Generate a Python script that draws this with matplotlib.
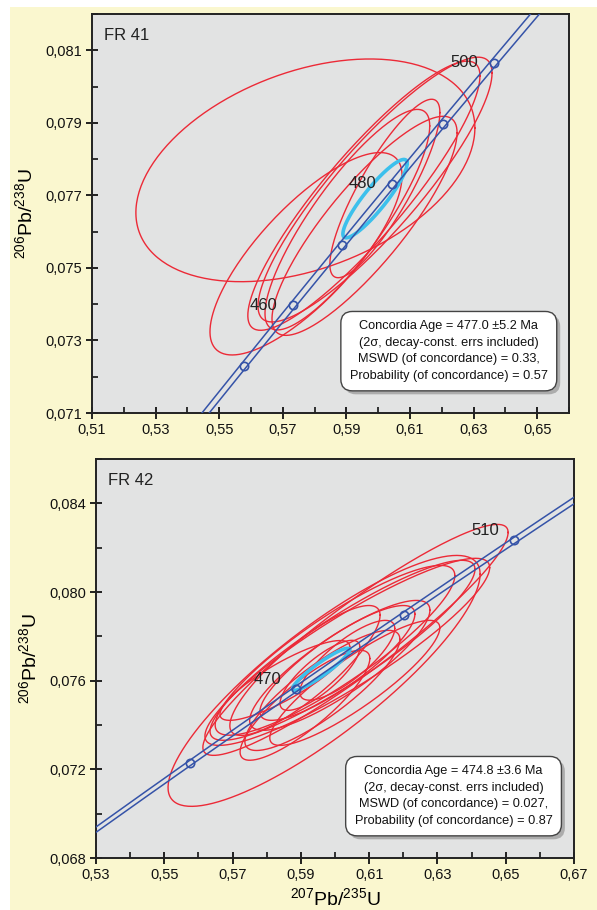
import numpy as np
import matplotlib.pyplot as plt
from matplotlib import patheffects
from matplotlib.patches import Rectangle
from matplotlib.ticker import FixedLocator, FuncFormatter

plt.rcParams['font.family'] = ['Liberation Sans', 'DejaVu Sans']
plt.rcParams['mathtext.fontset'] = 'custom'
plt.rcParams['mathtext.rm'] = 'Liberation Sans'
plt.rcParams['mathtext.it'] = 'Liberation Sans:italic'

# decay constants (1/yr)
L238 = 1.55125e-10
L235 = 9.8485e-10
band_err = 0.0017   # relative error on L235 used for the concordia band

# ---- FR 41 ----
# 207Pb/235U, half-width, 206Pb/238U, half-height, rho
fr41_x = [0.5771, 0.5773, 0.5990, 0.5955, 0.5903, 0.5957, 0.6021]
fr41_dx = [0.0533, 0.0302, 0.0368, 0.0365, 0.0259, 0.0291, 0.0173]
fr41_y = [0.07769, 0.07539, 0.07716, 0.07699, 0.07633, 0.07616, 0.07719]
fr41_dy = [0.00307, 0.00279, 0.00365, 0.00371, 0.00304, 0.00302, 0.00246]
fr41_rho = [0.38, 0.77, 0.88, 0.89, 0.85, 0.85, 0.85]
fr41_conc = [0.5990, 0.0101, 0.07691, 0.00108, 0.90]
fr41_marks = [450, 460, 470, 480, 490, 500]
fr41_labels = [460, 480, 500]
fr41_xticks = [0.51, 0.53, 0.55, 0.57, 0.59, 0.61, 0.63, 0.65]
fr41_yticks = [0.071, 0.073, 0.075, 0.077, 0.079, 0.081]
fr41_text = ("Concordia Age = 477.0 \u00b15.2 Ma\n(2\u03c3, decay-const. errs included)\n"
             "MSWD (of concordance) = 0.33,\nProbability (of concordance) = 0.57")

# ---- FR 42 ----
fr42_x = [0.5968, 0.6060, 0.6036, 0.6022, 0.6000, 0.6014, 0.6007, 0.5912,
          0.6058, 0.5963, 0.5853, 0.6036, 0.5956, 0.5912]
fr42_dx = [0.0457, 0.0447, 0.0417, 0.0388, 0.0351, 0.0264, 0.0227, 0.0220,
           0.0249, 0.0227, 0.0190, 0.0139, 0.0117, 0.0190]
fr42_y = [0.07599, 0.07784, 0.07730, 0.07737, 0.07737, 0.07669, 0.07680, 0.07646,
          0.07590, 0.07556, 0.07601, 0.07692, 0.07624, 0.07489]
fr42_dy = [0.00566, 0.00521, 0.00422, 0.00406, 0.00383, 0.00293, 0.00259, 0.00293,
           0.00282, 0.00271, 0.00180, 0.00180, 0.00158, 0.00248]
fr42_rho = [0.85, 0.93, 0.90, 0.90, 0.88, 0.85, 0.85, 0.85,
            0.88, 0.85, 0.85, 0.80, 0.80, 0.85]
fr42_conc = [0.5959, 0.00835, 0.07651, 0.00095, 0.93]
fr42_marks = [450, 470, 490, 510]
fr42_labels = [470, 510]
fr42_xticks = [0.53, 0.55, 0.57, 0.59, 0.61, 0.63, 0.65, 0.67]
fr42_yticks = [0.068, 0.072, 0.076, 0.080, 0.084]
fr42_text = ("Concordia Age = 474.8 \u00b13.6 Ma\n(2\u03c3, decay-const. errs included)\n"
             "MSWD (of concordance) = 0.027,\nProbability (of concordance) = 0.87")

RED = '#ec2a37'
BLUE = '#3553a8'
CYAN = '#3cc0ec'
FACE = '#e2e3e3'
YEL = '#faf7cf'


def ellipse(cx, hx, cy, hy, rho, n=240):
    th = np.linspace(0, 2 * np.pi, n)
    ex = cx + hx * np.cos(th)
    ey = cy + hy * (rho * np.cos(th) + np.sqrt(1 - rho ** 2) * np.sin(th))
    return ex, ey


def conc(t_ma):
    t = np.asarray(t_ma) * 1e6
    return np.exp(L235 * t) - 1, np.exp(L238 * t) - 1


def panel(ax, xs, dxs, ys, dys, rhos, cc, marks, labels, label_off, txt,
          xlim, ylim, xticks, yticks, name):
    ax.set_facecolor(FACE)
    for cx, hx, cy, hy, r in zip(xs, dxs, ys, dys, rhos):
        ex, ey = ellipse(cx, hx, cy, hy, r)
        ax.plot(ex, ey, color=RED, lw=1.0, zorder=3)
    ex, ey = ellipse(*cc)
    ax.plot(ex, ey, color=CYAN, lw=2.6, zorder=4)

    t = np.linspace(380, 600, 600) * 1e6
    yy = np.exp(L238 * t) - 1
    for s in (-1, 1):
        ax.plot(np.exp(L235 * (1 + s * band_err) * t) - 1, yy, color=BLUE, lw=1.1, zorder=5)
    mx, my = conc(marks)
    ax.plot(mx, my, 'o', ms=6, mfc='none', mec=BLUE, mew=1.2, zorder=6)
    lx, ly = conc(labels)
    for a, px, py in zip(labels, lx, ly):
        ax.annotate(str(a), (px, py), xytext=label_off[a], textcoords='offset points',
                    ha='right', va='center', fontsize=12, color='#222222', zorder=7)

    ax.text(0.025, 0.965, name, transform=ax.transAxes, fontsize=12, ha='left', va='top',
            color='#222222')
    # text box with a soft drop shadow
    t_box = ax.text(0.748, 0.155, txt, transform=ax.transAxes, fontsize=9.2, ha='center',
                    va='center', linespacing=1.5, zorder=9, color='#111111',
                    bbox=dict(boxstyle='round,pad=0.7,rounding_size=0.9', lw=1.0,
                              fc='white', ec='#444444'))
    t_box.get_bbox_patch().set_path_effects(
        [patheffects.SimplePatchShadow(offset=(2.5, -2.5), shadow_rgbFace='#777777', alpha=0.5),
         patheffects.Normal()])

    ax.set_xlim(*xlim)
    ax.set_ylim(*ylim)
    xstep = xticks[1] - xticks[0]
    ystep = yticks[1] - yticks[0]
    ax.xaxis.set_major_locator(FixedLocator(xticks))
    ax.xaxis.set_minor_locator(FixedLocator([v + xstep / 2 for v in xticks]))
    ax.yaxis.set_major_locator(FixedLocator(yticks))
    ax.yaxis.set_minor_locator(FixedLocator([v + ystep / 2 for v in yticks]))
    ax.xaxis.set_major_formatter(FuncFormatter(lambda v, p: ('%.2f' % v).replace('.', ',')))
    ax.yaxis.set_major_formatter(FuncFormatter(lambda v, p: ('%.3f' % v).replace('.', ',')))
    ax.tick_params(which='major', direction='inout', length=8, width=1.3, labelsize=10.5,
                   colors='#111111', pad=3)
    ax.tick_params(which='minor', direction='in', length=4, width=1.1)
    ax.tick_params(top=False, right=False)
    for sp in ax.spines.values():
        sp.set_linewidth(1.4)
        sp.set_color('#222222')
    ax.set_ylabel(r'$^{206}$Pb/$^{238}$U', fontsize=14, labelpad=7)


W, H = 597, 910
fig = plt.figure(figsize=(W / 100, H / 100), dpi=100)
fig.patch.set_facecolor('white')
fig.patches.append(Rectangle((10 / W, 0), 1, (H - 7) / H, transform=fig.transFigure,
                             fc=YEL, ec='none', zorder=-10))

ax1 = fig.add_axes([92 / W, 1 - 413 / H, (569 - 92) / W, (413 - 14) / H])
ax2 = fig.add_axes([96 / W, 1 - 858 / H, (574 - 96) / W, (858 - 459) / H])

panel(ax1, fr41_x, fr41_dx, fr41_y, fr41_dy, fr41_rho, fr41_conc, fr41_marks, fr41_labels,
      {460: (-11, 0), 480: (-11, 1), 500: (-11, 0)}, fr41_text,
      (0.51, 0.66), (0.071, 0.082), fr41_xticks, fr41_yticks, 'FR 41')
panel(ax2, fr42_x, fr42_dx, fr42_y, fr42_dy, fr42_rho, fr42_conc, fr42_marks, fr42_labels,
      {470: (-11, 7), 510: (-11, 7)}, fr42_text,
      (0.53, 0.67), (0.068, 0.086), fr42_xticks, fr42_yticks, 'FR 42')
ax2.set_xlabel(r'$^{207}$Pb/$^{235}$U', fontsize=14, labelpad=4)

fig.savefig('out.png', dpi=100, facecolor=fig.get_facecolor())
